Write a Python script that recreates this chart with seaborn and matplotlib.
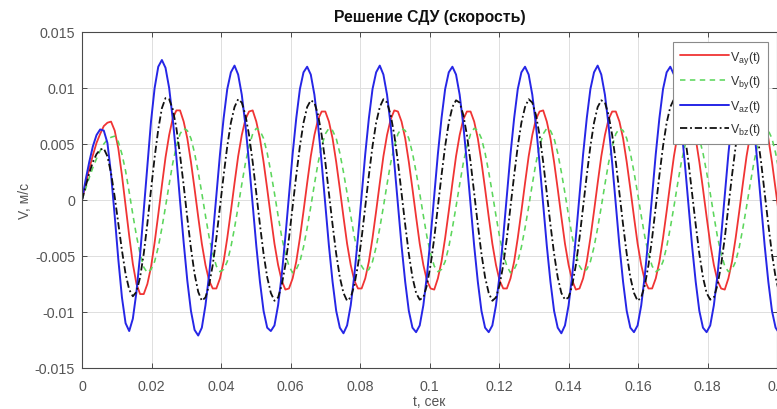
import numpy as np
import pandas as pd
import matplotlib
matplotlib.use("Agg")
import matplotlib.pyplot as plt
import seaborn as sns

# Solution of the system of differential equations: velocities, m/s,
# stored at a fixed sampling interval starting from t = 0.
T_STEP = 0.001045  # s

V_AY = [
    0, 0.0014, 0.0028, 0.0040, 0.0051, 0.0059, 0.0066, 0.0069, 0.0070, 0.0062,
    0.0046, 0.0022, -0.0005, -0.0032, -0.0057, -0.0075, -0.0084, -0.0084, -0.0075, -0.0060,
    -0.0038, -0.0013, 0.0013, 0.0038, 0.0058, 0.0073, 0.0080, 0.0080, 0.0070, 0.0055,
    0.0034, 0.0010, -0.0015, -0.0039, -0.0058, -0.0072, -0.0079, -0.0079, -0.0070, -0.0055,
    -0.0034, -0.0010, 0.0015, 0.0039, 0.0058, 0.0072, 0.0079, 0.0080, 0.0070, 0.0055,
    0.0034, 0.0010, -0.0015, -0.0039, -0.0058, -0.0072, -0.0080, -0.0079, -0.0070, -0.0055,
    -0.0034, -0.0010, 0.0015, 0.0039, 0.0058, 0.0072, 0.0079, 0.0079, 0.0070, 0.0055,
    0.0034, 0.0010, -0.0015, -0.0039, -0.0058, -0.0072, -0.0079, -0.0079, -0.0070, -0.0055,
    -0.0034, -0.0010, 0.0015, 0.0039, 0.0058, 0.0072, 0.0080, 0.0079, 0.0070, 0.0055,
    0.0034, 0.0010, -0.0015, -0.0039, -0.0058, -0.0072, -0.0079, -0.0080, -0.0070, -0.0055,
    -0.0034, -0.0010, 0.0015, 0.0039, 0.0058, 0.0072, 0.0079, 0.0079, 0.0070, 0.0055,
    0.0034, 0.0010, -0.0015, -0.0039, -0.0058, -0.0072, -0.0079, -0.0079, -0.0070, -0.0055,
    -0.0034, -0.0010, 0.0015, 0.0039, 0.0058, 0.0072, 0.0079, 0.0080, 0.0070, 0.0055,
    0.0034, 0.0010, -0.0015, -0.0039, -0.0058, -0.0072, -0.0080, -0.0079, -0.0070, -0.0055,
    -0.0034, -0.0010, 0.0015, 0.0039, 0.0058, 0.0072, 0.0079, 0.0079, 0.0070, 0.0055,
    0.0034, 0.0010, -0.0015, -0.0039, -0.0058, -0.0072, -0.0079, -0.0079, -0.0070, -0.0055,
    -0.0034, -0.0010, 0.0015, 0.0039, 0.0058, 0.0072, 0.0080, 0.0079, 0.0070, 0.0055,
    0.0034, 0.0010, -0.0015, -0.0039, -0.0058, -0.0072, -0.0079, -0.0080, -0.0070, -0.0055,
    -0.0034, -0.0010, 0.0015, 0.0039, 0.0058, 0.0072, 0.0079, 0.0079, 0.0070, 0.0055,
    0.0034, 0.0010, -0.0015,
]

V_BY = [
    0, 0.0010, 0.0020, 0.0029, 0.0037, 0.0044, 0.0050, 0.0054, 0.0056, 0.0057,
    0.0052, 0.0041, 0.0026, 0.0007, -0.0013, -0.0032, -0.0048, -0.0060, -0.0065, -0.0062,
    -0.0055, -0.0042, -0.0025, -0.0006, 0.0014, 0.0033, 0.0048, 0.0059, 0.0064, 0.0062,
    0.0055, 0.0042, 0.0025, 0.0006, -0.0014, -0.0033, -0.0048, -0.0059, -0.0064, -0.0062,
    -0.0055, -0.0042, -0.0025, -0.0006, 0.0014, 0.0033, 0.0048, 0.0059, 0.0064, 0.0062,
    0.0055, 0.0042, 0.0025, 0.0006, -0.0014, -0.0033, -0.0048, -0.0059, -0.0065, -0.0062,
    -0.0055, -0.0042, -0.0025, -0.0006, 0.0014, 0.0033, 0.0048, 0.0059, 0.0064, 0.0062,
    0.0055, 0.0042, 0.0025, 0.0006, -0.0014, -0.0033, -0.0048, -0.0059, -0.0064, -0.0062,
    -0.0055, -0.0042, -0.0025, -0.0006, 0.0014, 0.0033, 0.0048, 0.0059, 0.0064, 0.0062,
    0.0055, 0.0042, 0.0025, 0.0006, -0.0014, -0.0033, -0.0048, -0.0059, -0.0064, -0.0062,
    -0.0055, -0.0042, -0.0025, -0.0006, 0.0014, 0.0033, 0.0048, 0.0059, 0.0064, 0.0062,
    0.0055, 0.0042, 0.0025, 0.0006, -0.0014, -0.0033, -0.0048, -0.0059, -0.0065, -0.0062,
    -0.0055, -0.0042, -0.0025, -0.0006, 0.0014, 0.0033, 0.0048, 0.0059, 0.0064, 0.0062,
    0.0055, 0.0042, 0.0025, 0.0006, -0.0014, -0.0033, -0.0048, -0.0059, -0.0064, -0.0062,
    -0.0055, -0.0042, -0.0025, -0.0006, 0.0014, 0.0033, 0.0048, 0.0059, 0.0064, 0.0062,
    0.0055, 0.0042, 0.0025, 0.0006, -0.0014, -0.0033, -0.0048, -0.0059, -0.0064, -0.0062,
    -0.0055, -0.0042, -0.0025, -0.0006, 0.0014, 0.0033, 0.0048, 0.0059, 0.0064, 0.0062,
    0.0055, 0.0042, 0.0025, 0.0006, -0.0014, -0.0033, -0.0048, -0.0059, -0.0064, -0.0062,
    -0.0055, -0.0042, -0.0025, -0.0006, 0.0014, 0.0033, 0.0048, 0.0059, 0.0064, 0.0062,
    0.0055, 0.0042, 0.0025,
]

V_AZ = [
    0, 0.0018, 0.0034, 0.0048, 0.0058, 0.0063, 0.0062, 0.0051, 0.0023, -0.0014,
    -0.0053, -0.0087, -0.0110, -0.0117, -0.0106, -0.0082, -0.0049, -0.0009, 0.0032, 0.0070,
    0.0100, 0.0119, 0.0125, 0.0118, 0.0100, 0.0072, 0.0038, -0.0001, -0.0038, -0.0072,
    -0.0099, -0.0116, -0.0121, -0.0114, -0.0094, -0.0067, -0.0033, 0.0004, 0.0041, 0.0073,
    0.0099, 0.0114, 0.0120, 0.0112, 0.0094, 0.0067, 0.0033, -0.0004, -0.0041, -0.0073,
    -0.0099, -0.0114, -0.0117, -0.0112, -0.0094, -0.0067, -0.0033, 0.0004, 0.0041, 0.0073,
    0.0099, 0.0114, 0.0119, 0.0112, 0.0094, 0.0067, 0.0033, -0.0004, -0.0041, -0.0073,
    -0.0099, -0.0114, -0.0119, -0.0112, -0.0094, -0.0067, -0.0033, 0.0004, 0.0041, 0.0073,
    0.0099, 0.0114, 0.0120, 0.0112, 0.0094, 0.0067, 0.0033, -0.0004, -0.0041, -0.0073,
    -0.0099, -0.0114, -0.0118, -0.0112, -0.0094, -0.0067, -0.0033, 0.0004, 0.0041, 0.0073,
    0.0099, 0.0114, 0.0119, 0.0112, 0.0094, 0.0067, 0.0033, -0.0004, -0.0041, -0.0073,
    -0.0099, -0.0114, -0.0118, -0.0112, -0.0094, -0.0067, -0.0033, 0.0004, 0.0041, 0.0073,
    0.0099, 0.0114, 0.0119, 0.0112, 0.0094, 0.0067, 0.0033, -0.0004, -0.0041, -0.0073,
    -0.0099, -0.0114, -0.0119, -0.0112, -0.0094, -0.0067, -0.0033, 0.0004, 0.0041, 0.0073,
    0.0099, 0.0114, 0.0120, 0.0112, 0.0094, 0.0067, 0.0033, -0.0004, -0.0041, -0.0073,
    -0.0099, -0.0114, -0.0118, -0.0112, -0.0094, -0.0067, -0.0033, 0.0004, 0.0041, 0.0073,
    0.0099, 0.0114, 0.0119, 0.0112, 0.0094, 0.0067, 0.0033, -0.0004, -0.0041, -0.0073,
    -0.0099, -0.0114, -0.0118, -0.0112, -0.0094, -0.0067, -0.0033, 0.0004, 0.0041, 0.0073,
    0.0099, 0.0114, 0.0119, 0.0112, 0.0094, 0.0067, 0.0033, -0.0004, -0.0041, -0.0073,
    -0.0099, -0.0114, -0.0119,
]

V_BZ = [
    0, 0.0012, 0.0024, 0.0034, 0.0041, 0.0045, 0.0046, 0.0039, 0.0024, 0.0003,
    -0.0021, -0.0045, -0.0066, -0.0080, -0.0086, -0.0082, -0.0069, -0.0048, -0.0021, 0.0009,
    0.0038, 0.0063, 0.0082, 0.0091, 0.0090, 0.0081, 0.0064, 0.0040, 0.0013, -0.0016,
    -0.0043, -0.0066, -0.0082, -0.0090, -0.0087, -0.0076, -0.0058, -0.0034, -0.0006, 0.0022,
    0.0048, 0.0069, 0.0083, 0.0090, 0.0087, 0.0076, 0.0058, 0.0034, 0.0006, -0.0022,
    -0.0048, -0.0069, -0.0083, -0.0090, -0.0087, -0.0076, -0.0058, -0.0034, -0.0006, 0.0022,
    0.0048, 0.0069, 0.0083, 0.0089, 0.0087, 0.0076, 0.0058, 0.0034, 0.0006, -0.0022,
    -0.0048, -0.0069, -0.0083, -0.0090, -0.0087, -0.0076, -0.0058, -0.0034, -0.0006, 0.0022,
    0.0048, 0.0069, 0.0083, 0.0090, 0.0087, 0.0076, 0.0058, 0.0034, 0.0006, -0.0022,
    -0.0048, -0.0069, -0.0083, -0.0089, -0.0087, -0.0076, -0.0058, -0.0034, -0.0006, 0.0022,
    0.0048, 0.0069, 0.0083, 0.0089, 0.0087, 0.0076, 0.0058, 0.0034, 0.0006, -0.0022,
    -0.0048, -0.0069, -0.0083, -0.0090, -0.0087, -0.0076, -0.0058, -0.0034, -0.0006, 0.0022,
    0.0048, 0.0069, 0.0083, 0.0090, 0.0087, 0.0076, 0.0058, 0.0034, 0.0006, -0.0022,
    -0.0048, -0.0069, -0.0083, -0.0089, -0.0087, -0.0076, -0.0058, -0.0034, -0.0006, 0.0022,
    0.0048, 0.0069, 0.0083, 0.0089, 0.0087, 0.0076, 0.0058, 0.0034, 0.0006, -0.0022,
    -0.0048, -0.0069, -0.0083, -0.0090, -0.0087, -0.0076, -0.0058, -0.0034, -0.0006, 0.0022,
    0.0048, 0.0069, 0.0083, 0.0090, 0.0087, 0.0076, 0.0058, 0.0034, 0.0006, -0.0022,
    -0.0048, -0.0069, -0.0083, -0.0089, -0.0087, -0.0076, -0.0058, -0.0034, -0.0006, 0.0022,
    0.0048, 0.0069, 0.0083, 0.0090, 0.0087, 0.0076, 0.0058, 0.0034, 0.0006, -0.0022,
    -0.0048, -0.0069, -0.0083,
]

SERIES_LABELS = [r"V$_{ay}$(t)", r"V$_{by}$(t)", r"V$_{az}$(t)", r"V$_{bz}$(t)"]

X_TICKS = [0, 0.02, 0.04, 0.06, 0.08, 0.1, 0.12, 0.14, 0.16, 0.18, 0.2]
X_TICK_LABELS = ["0", "0.02", "0.04", "0.06", "0.08", "0.1", "0.12", "0.14", "0.16", "0.18", "0.2"]
Y_TICKS = [-0.015, -0.01, -0.005, 0, 0.005, 0.01, 0.015]
Y_TICK_LABELS = ["-0.015", "-0.01", "-0.005", "0", "0.005", "0.01", "0.015"]

TITLE = "Решение СДУ (скорость)"
X_LABEL = "t, сек"
Y_LABEL = "V, м/с"

# ---------------------------------------------------------------------------
sns.set_theme(style="white")
plt.rcParams["font.family"] = ["Liberation Sans", "DejaVu Sans"]
plt.rcParams["axes.unicode_minus"] = False
plt.rcParams["mathtext.default"] = "regular"

t = np.arange(len(V_AY)) * T_STEP
df = pd.DataFrame({"t": t, "ay": V_AY, "by": V_BY, "az": V_AZ, "bz": V_BZ})

fig = plt.figure(figsize=(7.77, 4.10), dpi=100)
fig.patch.set_facecolor("white")
ax = fig.add_axes([82 / 777, 41 / 410, 695 / 777, 336 / 410])
ax.set_facecolor("white")

styles = [
    ("ay", "#f03434", "-", 1.3),
    ("by", "#5cd65c", (0, (3.4, 2.8)), 1.15),
    ("az", "#2626e6", "-", 1.4),
    ("bz", "#111111", (0, (4.0, 1.6, 1.0, 1.6)), 1.3),
]
for (col, color, ls, lw), label in zip(styles, SERIES_LABELS):
    sns.lineplot(data=df, x="t", y=col, ax=ax, color=color, linestyle=ls,
                 linewidth=lw, label=label, estimator=None, sort=False)

ax.set_xlim(0, 0.2)
ax.set_ylim(-0.015, 0.015)
ax.set_xticks(X_TICKS)
ax.set_xticklabels(X_TICK_LABELS)
ax.set_yticks(Y_TICKS)
ax.set_yticklabels(Y_TICK_LABELS)

ax.grid(True, color="#dedede", linewidth=0.7)
ax.set_axisbelow(True)
for side in ["left", "right", "top", "bottom"]:
    ax.spines[side].set_visible(True)
    ax.spines[side].set_color("#4a4a4a")
    ax.spines[side].set_linewidth(0.8)

ax.tick_params(axis="both", which="major", direction="in", length=3.5, width=0.7,
               colors="#4a4a4a", labelsize=10.3, labelcolor="#555555",
               top=True, right=True, bottom=True, left=True)
ax.tick_params(axis="x", pad=8)
ax.tick_params(axis="y", pad=5)

ax.set_title(TITLE, fontsize=11.3, fontweight="bold", color="#111111", pad=8)
ax.set_xlabel(X_LABEL, fontsize=10, color="#555555", labelpad=0.5)
ax.set_ylabel(Y_LABEL, fontsize=10, color="#555555", labelpad=2)

leg = ax.legend(loc="upper right", bbox_to_anchor=((768 - 82) / 695, (369 - 43) / 336),
                borderaxespad=0, fontsize=9, handlelength=3.9, handletextpad=0.1,
                labelspacing=0.6, borderpad=0.55, frameon=True, fancybox=False,
                framealpha=1.0)
leg.get_frame().set_edgecolor("#8a8a8a")
leg.get_frame().set_linewidth(0.8)
for txt in leg.get_texts():
    txt.set_color("#333333")

fig.savefig("out.png", dpi=100, facecolor="white")
